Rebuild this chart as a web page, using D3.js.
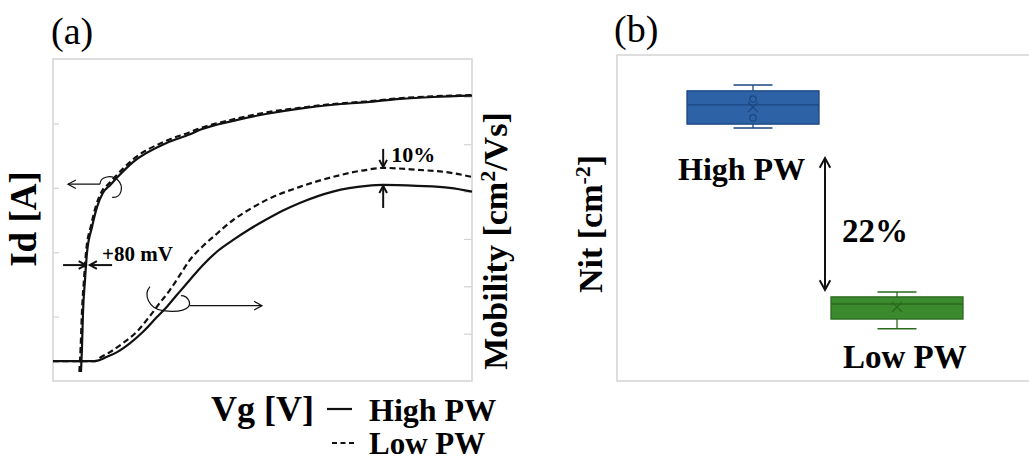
<!DOCTYPE html>
<html><head><meta charset="utf-8">
<script src="https://cdn.jsdelivr.net/npm/d3@7"></script>
<style>
body{margin:0;background:#fff}
svg{display:block}
text{font-family:"Liberation Serif","Times New Roman",serif}
</style>
</head><body>
<svg id="c" width="1029" height="462"></svg>
<script>
// ---------- Panel (a) data (arbitrary units, no tick labels in the source) ----------
const idHighVg = [0.668,0.68,0.692,0.716,0.764,0.811,0.931,1.05,1.19,1.36,1.53,1.91,2.72,3.27,3.51,4.30,5.11,5.89,6.68,7.49,8.28,9.07,10];
const idHighI  = [0.14,0.33,0.53,1.06,1.57,1.99,2.39,2.70,2.92,3.04,3.16,3.40,3.70,3.83,3.90,4.04,4.15,4.23,4.29,4.33,4.38,4.41,4.43];
const idLowVg  = [0.63,0.645,0.66,0.69,0.74,0.79,0.91,1.03,1.17,1.34,1.51,1.89,2.70,3.25,3.49,4.28,5.09,5.87,6.66,7.47,8.26,9.05,10];
const idLowI   = [0.14,0.33,0.53,1.06,1.58,2.01,2.42,2.73,2.95,3.07,3.19,3.43,3.73,3.86,3.92,4.06,4.17,4.24,4.30,4.34,4.39,4.42,4.44];

const muHighVg = [0,1.0,1.29,1.53,1.84,2.15,2.48,2.72,2.96,3.27,3.58,3.91,4.30,4.70,5.11,5.49,5.89,6.68,7.49,7.88,8.69,9.47,10];
const muHigh   = [0.42,0.42,0.51,0.61,0.80,1.04,1.35,1.57,1.82,2.14,2.45,2.73,2.98,3.21,3.42,3.60,3.76,4.00,4.12,4.14,4.12,4.08,4.00];
const muLowVg  = [0,1.0,1.12,1.36,1.67,2.0,2.31,2.55,2.79,3.03,3.27,3.58,3.91,4.30,4.70,5.11,5.89,6.68,7.49,7.88,8.69,9.47,10];
const muLow    = [0.42,0.42,0.49,0.61,0.80,1.04,1.37,1.65,1.92,2.24,2.56,2.85,3.11,3.40,3.63,3.83,4.10,4.31,4.46,4.50,4.46,4.40,4.31];

const idTicks = [1,2,3,4];
const muTicks = [1,2,3,4,5,6];

// ---------- Panel (b) data ----------
const nitCategories   = ["High PW","Low PW"];
const nitWhiskerLow   = [7.76,1.60];
const nitQ1           = [7.88,1.90];
const nitMedian       = [8.47,2.36];
const nitQ3           = [8.90,2.58];
const nitWhiskerHigh  = [9.08,2.73];
const nitMean         = [8.40,2.27];
const nitOutliers     = [[8.65,8.07],[]];
const nitFill   = ["#2e62a6","#3c8a2e"];
const nitStroke = ["#1b4680","#2a6a1e"];

const svg = d3.select("#c");
const FRAME = "#d3d3d3";

// ---------- scales panel (a) ----------
const x = d3.scaleLinear().domain([0,10]).range([53,472]);
const yId = d3.scaleLinear().domain([0,5]).range([381,59]);
const yMu = d3.scaleLinear().domain([0,6.8]).range([381,59]);

const ga = svg.append("g");
ga.append("rect").attr("x",53).attr("y",59).attr("width",419).attr("height",322)
  .attr("fill","none").attr("stroke",FRAME).attr("stroke-width",1.5);
ga.append("g").attr("transform","translate(53,0)")
  .call(d3.axisRight(yId).tickValues(idTicks).tickSize(6).tickFormat(""))
  .call(g=>{g.select(".domain").remove();g.selectAll("line").attr("stroke",FRAME).attr("stroke-width",1.2);});
ga.append("g").attr("transform","translate(472,0)")
  .call(d3.axisLeft(yMu).tickValues(muTicks).tickSize(8).tickFormat(""))
  .call(g=>{g.select(".domain").remove();g.selectAll("line").attr("stroke",FRAME).attr("stroke-width",1.2);});

function drawCurve(xs, ys, yScale, dashed){
  const pts = xs.map((v,i)=>[x(v), yScale(ys[i])]);
  ga.append("path").attr("d", d3.line().curve(d3.curveMonotoneX)(pts))
    .attr("fill","none").attr("stroke","#111").attr("stroke-width",2.2)
    .attr("stroke-dasharray", dashed ? "6,3.5" : null);
}
drawCurve(muHighVg, muHigh, yMu, false);
drawCurve(muLowVg, muLow, yMu, true);
drawCurve(idHighVg, idHighI, yId, false);
drawCurve(idLowVg, idLowI, yId, true);

function arrow(g, x1,y1,x2,y2, head, sw, both){
  g.append("line").attr("x1",x1).attr("y1",y1).attr("x2",x2).attr("y2",y2)
   .attr("stroke","#111").attr("stroke-width",sw);
  const heads = both ? [[x2,y2,x1,y1],[x1,y1,x2,y2]] : [[x1,y1,x2,y2]];
  heads.forEach(([ax,ay,bx,by])=>{
    const a = Math.atan2(by-ay, bx-ax);
    const p = [[bx - head*Math.cos(a-0.5), by - head*Math.sin(a-0.5)],[bx,by],[bx - head*Math.cos(a+0.5), by - head*Math.sin(a+0.5)]];
    g.append("path").attr("d", d3.line()(p)).attr("fill","none").attr("stroke","#111").attr("stroke-width",sw);
  });
}

// Id curl and left arrow
const ci = [x(1.36), yId(3.04)];
arrow(ga, ci[0]-10, ci[1]-1, ci[0]-42, ci[1]-1, 9, 1.2);
ga.append("path").attr("d", `M${ci[0]-10},${ci[1]-1} C${ci[0]-10},${ci[1]-9} ${ci[0]+2},${ci[1]-11} ${ci[0]+8},${ci[1]-5}
   C${ci[0]+14},${ci[1]+1} ${ci[0]+12},${ci[1]+13} ${ci[0]+2},${ci[1]+12}`)
  .attr("fill","none").attr("stroke","#111").attr("stroke-width",1.2);

// mobility curl and right arrow
const cm = [x(2.72), yMu(1.57)];
ga.append("path").attr("d", `M${cm[0]-17},${cm[1]-20} C${cm[0]-24},${cm[1]-12} ${cm[0]-18},${cm[1]+2} ${cm[0]-4},${cm[1]+4}
   C${cm[0]+10},${cm[1]+6} ${cm[0]+26},${cm[1]+4} ${cm[0]+22},${cm[1]-6} C${cm[0]+20},${cm[1]-10} ${cm[0]+16},${cm[1]-11} ${cm[0]+14},${cm[1]-11}`)
  .attr("fill","none").attr("stroke","#111").attr("stroke-width",1.2);
arrow(ga, cm[0]+23, cm[1]-1, cm[0]+95, cm[1]-1, 9, 1.2);

// +80 mV arrows
const yv = yId(1.8);
arrow(ga, x(0.24), yv, x(0.78), yv, 8, 2);
arrow(ga, x(1.41), yv, x(0.88), yv, 8, 2);
ga.append("text").attr("x",x(1.17)).attr("y",yv-4).attr("font-size",21).attr("font-weight","bold").text("+80 mV");

// 10% arrows
const xp = x(7.88);
arrow(ga, xp, yMu(4.50)-19, xp, yMu(4.50)-1, 8, 2);
arrow(ga, xp, yMu(4.14)+23, xp, yMu(4.14)+1, 8, 2);
ga.append("text").attr("x",xp+8).attr("y",yMu(4.50)-6).attr("font-size",22).attr("font-weight","bold").text("10%");

// labels panel (a)
svg.append("text").attr("x",51).attr("y",44).attr("font-size",38).text("(a)");
svg.append("text").attr("transform","translate(36,219) rotate(-90)").attr("text-anchor","middle")
  .attr("font-size",37).attr("font-weight","bold").text("Id [A]");
const mob = svg.append("text").attr("transform","translate(507,241) rotate(-90)").attr("text-anchor","middle")
  .attr("font-size",34).attr("font-weight","bold");
mob.append("tspan").text("Mobility [cm");
mob.append("tspan").attr("font-size",22).attr("dy",-12).text("2");
mob.append("tspan").attr("dy",12).text("/Vs]");

svg.append("text").attr("x",211).attr("y",421).attr("font-size",36).attr("font-weight","bold").text("Vg [V]");
svg.append("line").attr("x1",327).attr("x2",352).attr("y1",409).attr("y2",409).attr("stroke","#111").attr("stroke-width",2.2);
svg.append("line").attr("x1",332).attr("x2",354).attr("y1",443).attr("y2",443).attr("stroke","#111").attr("stroke-width",2.2).attr("stroke-dasharray","5,3.5");
svg.append("text").attr("x",369).attr("y",421).attr("font-size",32).attr("font-weight","bold").text("High PW");
svg.append("text").attr("x",369).attr("y",454).attr("font-size",31).attr("font-weight","bold").text("Low PW");

// ---------- Panel (b) ----------
const gb = svg.append("g");
const yN = d3.scaleLinear().domain([0,10]).range([381,55]);
const xN = d3.scalePoint().domain(nitCategories).range([753,897]);
gb.append("path").attr("d","M1029,55 H617 V381 H1029").attr("fill","none").attr("stroke",FRAME).attr("stroke-width",1.5);

nitCategories.forEach((c,i)=>{
  const cx = xN(c), bw = 132, cw = 39;
  const st = nitStroke[i];
  gb.append("line").attr("x1",cx).attr("x2",cx).attr("y1",yN(nitWhiskerHigh[i])).attr("y2",yN(nitQ3[i])).attr("stroke",st).attr("stroke-width",1.3);
  gb.append("line").attr("x1",cx).attr("x2",cx).attr("y1",yN(nitWhiskerLow[i])).attr("y2",yN(nitQ1[i])).attr("stroke",st).attr("stroke-width",1.3);
  [nitWhiskerHigh[i], nitWhiskerLow[i]].forEach(v=>{
    gb.append("line").attr("x1",cx-cw/2).attr("x2",cx+cw/2).attr("y1",yN(v)).attr("y2",yN(v)).attr("stroke",st).attr("stroke-width",1.5);
  });
  gb.append("rect").attr("x",cx-bw/2).attr("width",bw).attr("y",yN(nitQ3[i])).attr("height",yN(nitQ1[i])-yN(nitQ3[i]))
    .attr("fill",nitFill[i]).attr("stroke",st).attr("stroke-width",1.3);
  gb.append("line").attr("x1",cx-bw/2).attr("x2",cx+bw/2).attr("y1",yN(nitMedian[i])).attr("y2",yN(nitMedian[i])).attr("stroke",st).attr("stroke-width",1.4);
  const my = yN(nitMean[i]), s = 5;
  gb.append("path").attr("d",`M${cx-s},${my-s}L${cx+s},${my+s}M${cx+s},${my-s}L${cx-s},${my+s}`).attr("stroke",st).attr("stroke-width",1.2);
  nitOutliers[i].forEach(v=>{
    gb.append("circle").attr("cx",cx).attr("cy",yN(v)).attr("r",3.2).attr("fill","none").attr("stroke",st).attr("stroke-width",1.2);
  });
});

gb.append("text").attr("x",678).attr("y",180).attr("font-size",32).attr("font-weight","bold").text("High PW");
gb.append("text").attr("x",843).attr("y",368).attr("font-size",33).attr("font-weight","bold").text("Low PW");
gb.append("text").attr("x",842).attr("y",242).attr("font-size",33).attr("font-weight","bold").text("22%");
arrow(gb, 825, 158, 825, 290, 11, 2, true);

svg.append("text").attr("x",614).attr("y",42).attr("font-size",38).text("(b)");
const nit = svg.append("text").attr("transform","translate(602,224) rotate(-90)").attr("text-anchor","middle")
  .attr("font-size",34).attr("font-weight","bold");
nit.append("tspan").text("Nit [cm");
nit.append("tspan").attr("font-size",22).attr("dy",-12).text("-2");
nit.append("tspan").attr("dy",12).text("]");
</script>
</body></html>
